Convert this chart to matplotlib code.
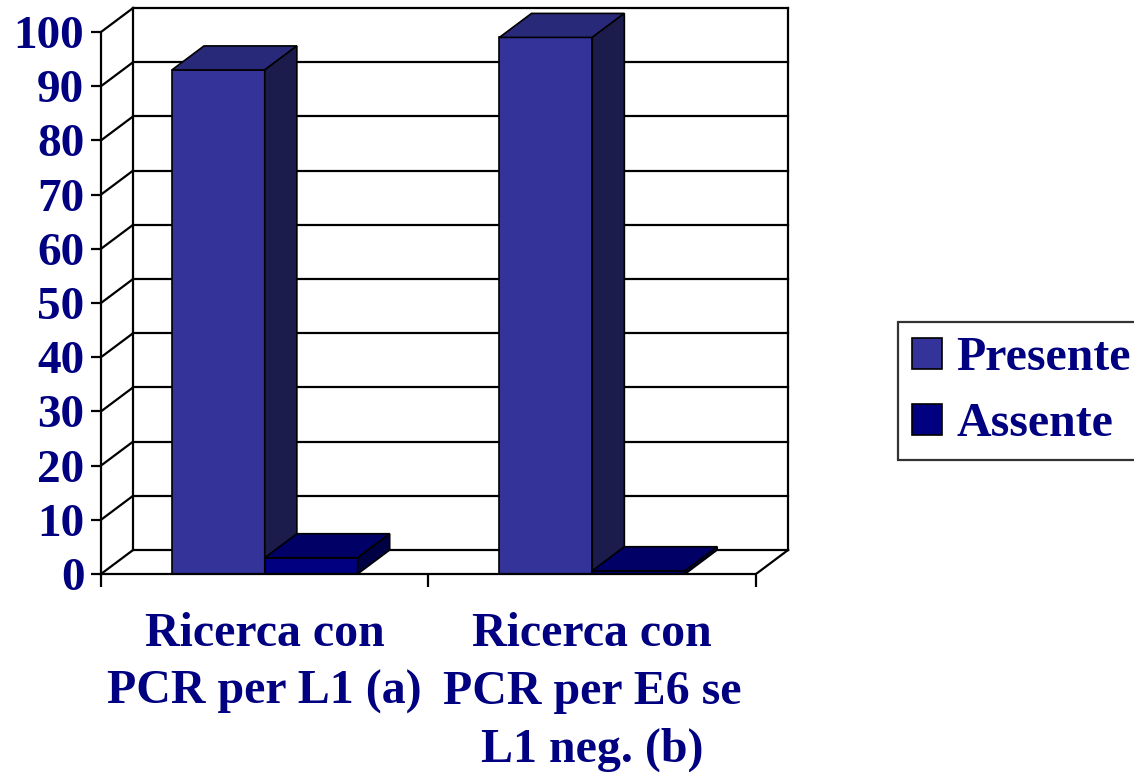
"""
Pseudo-3D clustered bar chart: PCR search results (Presente / Assente).
"""

import matplotlib

matplotlib.use("Agg")
import matplotlib.pyplot as plt  # noqa: E402
from matplotlib.patches import Patch  # noqa: E402

categories = ["Ricerca con\nPCR per L1 (a)", "Ricerca con\nPCR per E6 se\nL1 neg. (b)"]
series_names = ["Presente", "Assente"]
presente = [93, 99]
assente = [3, 0.6]
y_ticks = list(range(0, 101, 10))

NAVY = "#000080"
# front, top, side shades for each series
SHADES = {
    "Presente": ("#333399", "#29297a", "#1c1c4c"),
    "Assente": ("#000080", "#000066", "#000044"),
}

# oblique depth offset, in data units
DX = 0.098
DY = 4.43
BAR_GAP = 0.2165

plt.rcParams["font.family"] = ["Liberation Serif", "DejaVu Serif"]
plt.rcParams["font.weight"] = "bold"
FS = 34.5


def _draw_walls(ax):
    n = len(categories)
    kw = dict(color="black", lw=1.6, zorder=1, solid_capstyle="projecting")
    for v in y_ticks:
        ax.plot([DX, n + DX], [v + DY, v + DY], **kw)
        ax.plot([0, DX], [v, v + DY], **kw)
    ax.plot([DX, DX], [DY, 100 + DY], **kw)
    ax.plot([n + DX, n + DX], [DY, 100 + DY], **kw)
    ax.plot([n, n + DX], [0, DY], **kw)


def _draw_bar(ax, x0, width, value, shades):
    front, top, side = shades
    x1 = x0 + width
    ax.bar(x0, value, width=width, align="edge", color=front,
           edgecolor="black", lw=1.2, zorder=3)
    ax.fill([x0, x1, x1 + DX, x0 + DX], [value, value, value + DY, value + DY],
            facecolor=top, edgecolor="black", lw=1.2, zorder=3)
    ax.fill([x1, x1 + DX, x1 + DX, x1], [0, DY, value + DY, value],
            facecolor=side, edgecolor="black", lw=1.2, zorder=3)


def main():
    fig = plt.figure(figsize=(11.34, 7.72), dpi=100)
    ax = fig.add_axes([101 / 1134, (772 - 574) / 772, 694.3 / 1134, 569.1 / 772])
    ax.set_xlim(0, 2.12)
    ax.set_ylim(0, 105)

    _draw_walls(ax)

    width = 0.5 - BAR_GAP
    for i in range(len(categories)):
        _draw_bar(ax, i + BAR_GAP, width, presente[i], SHADES["Presente"])
        _draw_bar(ax, i + 0.5, width, assente[i], SHADES["Assente"])

    for s in ["top", "right"]:
        ax.spines[s].set_visible(False)
    ax.spines["left"].set_bounds(0, 100)
    ax.spines["bottom"].set_bounds(0, len(categories))
    for s in ["left", "bottom"]:
        ax.spines[s].set_linewidth(1.6)
        ax.spines[s].set_zorder(4)

    ax.set_yticks(y_ticks)
    ax.set_yticklabels([str(v) for v in y_ticks], fontsize=FS - 0.5, color=NAVY,
                       fontweight="bold")
    ax.tick_params(axis="y", direction="out", length=7, width=1.6, pad=5)

    ax.set_xticks(range(len(categories) + 1))
    ax.set_xticklabels([])
    ax.tick_params(axis="x", which="major", direction="out", length=9, width=1.6)
    ax.set_xticks([i + 0.5 for i in range(len(categories))], minor=True)
    ax.set_xticklabels(categories, minor=True, fontsize=FS, color=NAVY,
                       fontweight="bold", linespacing=1.42)
    ax.tick_params(axis="x", which="minor", length=0, pad=27)

    handles = [Patch(facecolor=SHADES[n][0], edgecolor="black", lw=1.2)
               for n in series_names]
    leg = fig.legend(handles, series_names, loc="upper left",
                     bbox_to_anchor=(898 / 1134, 1 - 322 / 772),
                     prop={"family": "Liberation Serif", "weight": "bold", "size": FS},
                     frameon=True, fancybox=False, edgecolor="black",
                     handlelength=0.62, handleheight=0.62, handletextpad=0.3,
                     borderpad=0.3, labelspacing=0.45, borderaxespad=0)
    leg.get_frame().set_linewidth(1.6)
    for t in leg.get_texts():
        t.set_color(NAVY)

    fig.savefig("out.png", dpi=100)
    plt.close(fig)


if __name__ == "__main__":
    main()
